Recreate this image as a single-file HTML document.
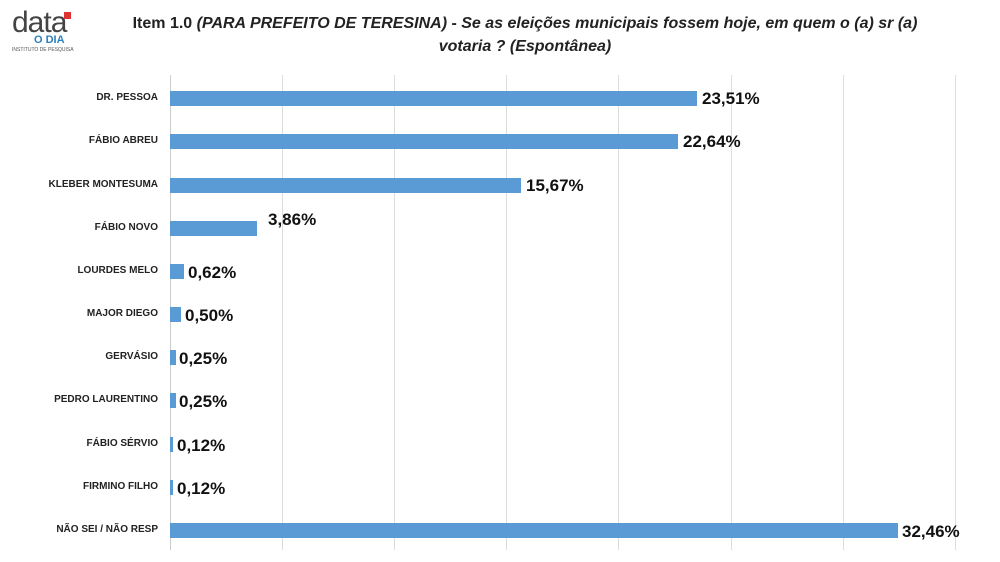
<!DOCTYPE html>
<html><head><meta charset="utf-8"><style>
body{margin:0;width:1000px;height:562px;background:#fff;font-family:"Liberation Sans",sans-serif;position:relative;overflow:hidden}
.t{position:absolute;left:80px;width:890px;text-align:center;top:12px;font-weight:bold;font-size:16px;line-height:23px;color:#222}
.g{position:absolute;top:75px;height:475px;width:1px;background:#ddd}
.b{position:absolute;left:170px;height:15px;background:#5b9bd5}
.l{position:absolute;right:842px;font-weight:bold;font-size:10px;color:#222;white-space:nowrap}
.v{position:absolute;font-weight:bold;font-size:17px;color:#111;white-space:nowrap;margin-top:2px}
</style></head><body>
<div style="position:absolute;left:12px;top:10px;width:60px;height:40px">
<div style="font-size:30px;color:#444;line-height:26px;letter-spacing:-1px">data</div>
<div style="position:absolute;left:52px;top:2px;width:7px;height:7px;background:#d33"></div>
<div style="position:absolute;left:22px;top:25px;font-size:11px;font-weight:bold;color:#2a7fc1;line-height:11px">O DIA</div>
<div style="position:absolute;left:0;top:37px;font-size:5px;color:#555;white-space:nowrap">INSTITUTO DE PESQUISA</div>
</div>
<div class="t">Item 1.0 <i>(PARA PREFEITO DE TERESINA)</i> - <i>Se as eleições municipais fossem hoje, em quem o (a) sr (a)<br>votaria ? (Espontânea)</i></div>
<div class="g" style="left:170px;background:#ccc"></div><div class="g" style="left:282px"></div><div class="g" style="left:394px"></div><div class="g" style="left:506px"></div><div class="g" style="left:618px"></div><div class="g" style="left:731px"></div><div class="g" style="left:843px"></div><div class="g" style="left:955px"></div>
<div class="b" style="top:91px;width:527px"></div><div class="l" style="top:92px">DR. PESSOA</div><div class="v" style="left:702px;top:87px">23,51%</div>
<div class="b" style="top:134px;width:508px"></div><div class="l" style="top:135px">FÁBIO ABREU</div><div class="v" style="left:683px;top:130px">22,64%</div>
<div class="b" style="top:178px;width:351px"></div><div class="l" style="top:179px">KLEBER MONTESUMA</div><div class="v" style="left:526px;top:174px">15,67%</div>
<div class="b" style="top:221px;width:87px"></div><div class="l" style="top:222px">FÁBIO NOVO</div><div class="v" style="left:268px;top:208px">3,86%</div>
<div class="b" style="top:264px;width:14px"></div><div class="l" style="top:265px">LOURDES MELO</div><div class="v" style="left:188px;top:261px">0,62%</div>
<div class="b" style="top:307px;width:11px"></div><div class="l" style="top:308px">MAJOR DIEGO</div><div class="v" style="left:185px;top:304px">0,50%</div>
<div class="b" style="top:350px;width:6px"></div><div class="l" style="top:351px">GERVÁSIO</div><div class="v" style="left:179px;top:347px">0,25%</div>
<div class="b" style="top:393px;width:6px"></div><div class="l" style="top:394px">PEDRO LAURENTINO</div><div class="v" style="left:179px;top:390px">0,25%</div>
<div class="b" style="top:437px;width:3px"></div><div class="l" style="top:438px">FÁBIO SÉRVIO</div><div class="v" style="left:177px;top:434px">0,12%</div>
<div class="b" style="top:480px;width:3px"></div><div class="l" style="top:481px">FIRMINO FILHO</div><div class="v" style="left:177px;top:477px">0,12%</div>
<div class="b" style="top:523px;width:728px"></div><div class="l" style="top:524px">NÃO SEI / NÃO RESP</div><div class="v" style="left:902px;top:520px">32,46%</div>
</body></html>
